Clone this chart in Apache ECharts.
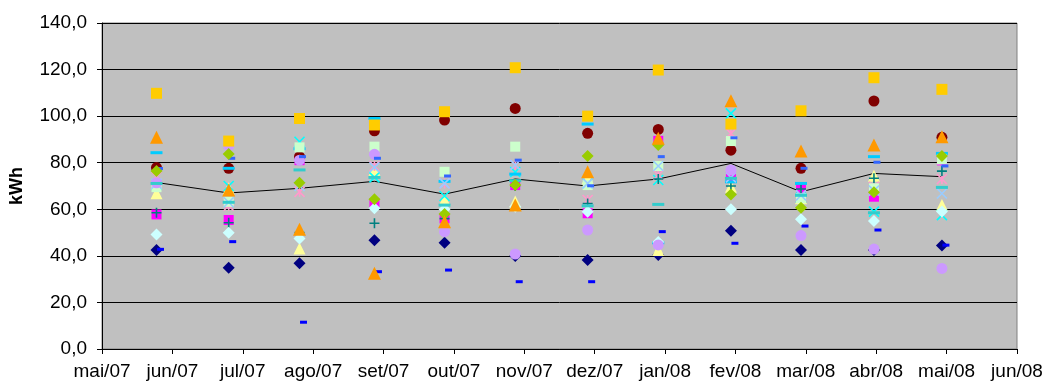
<!DOCTYPE html>
<html>
<head>
<meta charset="UTF-8">
<script src="https://cdn.jsdelivr.net/npm/echarts@6.0.0/dist/echarts.min.js"></script>
<style>
  html, body { margin: 0; padding: 0; background: #fff; }
  #chart { width: 1046px; height: 389px; }
</style>
</head>
<body>
<div id="chart"></div>
<script>
// month labels on the date axis (one per month start)
var monthLabels = ['mai/07', 'jun/07', 'jul/07', 'ago/07', 'set/07', 'out/07', 'nov/07',
                   'dez/07', 'jan/08', 'fev/08', 'mar/08', 'abr/08', 'mai/08', 'jun/08'];
// meter reading dates
var readDates = ['2007-05-25', '2007-06-25', '2007-07-26', '2007-08-28', '2007-09-27', '2007-10-28',
                 '2007-11-28', '2007-12-29', '2008-01-30', '2008-02-28', '2008-03-31', '2008-04-29'];

// consumption per household (kWh)
var s01 = [42.5, 34.9, 36.8, 46.7, 45.6, 39.9, 38.2, 40.4, 50.8, 42.5, 42.5, 44.4];
var s02 = [57.8, 55.4, 81.1, 62.6, 56.1, 70.4, 58.3, 89.4, 74.0, 69.0, 65.4, 81.0];
var s03 = [66.9, 69.0, 43.2, 76.9, 64.0, 63.3, 73.3, 42.5, 69.7, 64.7, 74.4, 61.8];
var s04 = [70.5, 70.0, 89.0, 73.7, 65.7, 76.0, 71.1, 72.6, 101.2, 65.0, 59.0, 57.5];
var s05 = [74.0, 61.5, 67.5, 78.6, 71.1, 79.0, 64.0, 74.7, 92.6, 66.0, 69.7, 73.0];
var s06 = [77.9, 77.6, 82.6, 93.7, 98.3, 103.3, 92.6, 94.3, 85.4, 77.6, 106.5, 90.9];
var s07 = [58.5, 54.2, 50.0, 54.0, 56.0, 70.0, 62.5, 73.0, 70.0, 68.7, 73.3, 76.4];
var s08 = [42.8, 46.1, 11.5, 33.2, 33.9, 28.9, 28.9, 50.4, 45.4, 52.8, 51.1, 44.6];
var s09 = [84.3, 77.6, 86.0, 99.0, 72.0, 75.1, 96.6, 45.6, 71.8, 71.1, 82.6, 84.0];
var s10 = [49.2, 49.9, 47.5, 60.4, 60.0, 61.1, 58.9, 46.0, 60.0, 55.7, 55.0, 59.0];
var s11 = [69.5, 63.2, 86.6, 86.9, 76.1, 86.9, 70.4, 78.6, 89.3, 64.7, 69.0, 81.4];
var s12 = [71.0, 63.0, 70.0, 78.0, 71.1, 79.0, 71.1, 78.6, 73.7, 66.0, 68.0, 66.8];
var s13 = [71.4, 87.2, 81.1, 83.6, 50.4, 40.8, 51.1, 44.7, 76.9, 48.7, 42.9, 34.6];
var s14 = [77.5, 81.9, 82.6, 81.9, 74.3, 81.1, 70.1, 82.6, 90.7, 77.6, 80.2, 78.6];
var s15 = [71.1, 63.0, 76.9, 73.7, 61.8, 72.3, 61.5, 62.1, 73.3, 66.0, 58.5, 69.4];
var s16 = [76.4, 83.7, 71.4, 64.3, 58.0, 70.4, 82.9, 87.6, 66.4, 60.7, 67.3, 82.9];
var s17 = [109.8, 89.3, 99.0, 96.2, 101.9, 120.8, 100.0, 119.8, 96.6, 102.3, 116.5, 111.5];
var s18 = [90.9, 68.3, 51.4, 32.5, 54.7, 61.8, 76.1, 90.5, 106.6, 85.0, 87.6, 91.2];
// average
var media = [71.5, 67.0, 69.0, 72.0, 66.5, 73.0, 70.0, 73.0, 79.7, 67.5, 75.4, 74.0];

// date -> position in months since mai/07
function monthPos(d) {
    var p = d.split('-');
    var y = +p[0], m = +p[1], day = +p[2];
    var dim = new Date(y, m, 0).getDate();
    return (y - 2007) * 12 + (m - 5) + (day - 1) / dim;
}
var xs = readDates.map(monthPos);

function pts(vals) {
    return vals.map(function (v, i) { return [xs[i], v]; });
}

var X = 'path://M0,0L10,10M10,0L0,10';
var STAR = 'path://M0,0L10,10M10,0L0,10M5,0L5,10';
var PLUS = 'path://M5,0L5,10M0,5L10,5';

var marks = [
    [s01, '#000080', 'diamond', 12, 0, false],
    [s02, '#FF00FF', 'rect', 10, 0, false],
    [s03, '#FFFF99', 'triangle', 12, 0, false],
    [s04, '#00FFFF', X, 10, 0, true],
    [s05, '#FF99CC', STAR, 10, 0, true],
    [s06, '#800000', 'circle', 11, 0, false],
    [s07, '#008080', PLUS, 10, 0, true],
    [s08, '#0000FF', 'rect', [7, 3], 4, false],
    [s09, '#00CCFF', 'rect', [12, 3], 0, false],
    [s10, '#CCFFFF', 'diamond', 12, 0, false],
    [s11, '#CCFFCC', 'rect', 10, 0, false],
    [s12, '#99CCFF', X, 10, 0, true],
    [s13, '#CC99FF', 'circle', 11, 0, false],
    [s14, '#3366FF', 'rect', [7, 3], 3, false],
    [s15, '#33CCCC', 'rect', [12, 3], 0, false],
    [s16, '#99CC00', 'diamond', 12, 0, false],
    [s17, '#FFCC00', 'rect', 11, 0, false],
    [s18, '#FF9900', 'triangle', 13, 0, false]
];

var series = [{
    type: 'line',
    data: pts(media),
    symbol: 'none',
    lineStyle: { color: '#000', width: 1 },
    z: 1
}];
marks.forEach(function (m) {
    series.push({
        type: 'scatter',
        data: pts(m[0]),
        symbol: m[2],
        symbolSize: m[3],
        symbolOffset: [m[4], 0],
        itemStyle: m[5]
            ? { color: 'none', borderColor: m[1], borderWidth: 1.6, opacity: 1 }
            : { color: m[1], opacity: 1 },
        z: 2
    });
});

var font = 'Liberation Sans, Arial, sans-serif';
var chart = echarts.init(document.getElementById('chart'));
chart.setOption({
    animation: false,
    backgroundColor: '#fff',
    grid: {
        left: 102, right: 29, top: 23, bottom: 40,
        outerBoundsMode: 'none',
        show: true, backgroundColor: '#C0C0C0', borderColor: '#808080', borderWidth: 1
    },
    xAxis: {
        type: 'value',
        min: 0, max: 13, interval: 1,
        axisLine: { lineStyle: { color: '#000', width: 1 } },
        axisTick: { length: 5, lineStyle: { color: '#000' } },
        splitLine: { show: false },
        axisLabel: {
            color: '#000', fontSize: 19, fontFamily: font, margin: 13,
            formatter: function (v) { return monthLabels[Math.round(v)]; }
        }
    },
    yAxis: {
        type: 'value',
        min: 0, max: 140, interval: 20,
        name: 'kWh',
        nameLocation: 'middle',
        nameRotate: 90,
        nameGap: 76,
        nameTextStyle: { color: '#000', fontSize: 18, fontWeight: 'bold', fontFamily: font },
        axisLine: { show: true, lineStyle: { color: '#000', width: 1 } },
        axisTick: { show: true, length: 5, lineStyle: { color: '#000' } },
        splitLine: { lineStyle: { color: '#000', width: 1 } },
        axisLabel: {
            color: '#000', fontSize: 19, fontFamily: font, margin: 15,
            formatter: function (v) { return v.toFixed(1).replace('.', ','); }
        }
    },
    series: series
});
</script>
</body>
</html>
